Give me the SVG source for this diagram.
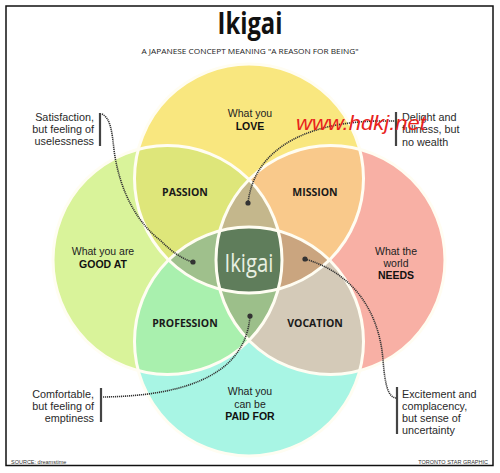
<svg xmlns="http://www.w3.org/2000/svg" width="500" height="473" viewBox="0 0 500 473">
<style>
.lbl{font-family:"Liberation Sans",sans-serif;font-size:10.5px;fill:#222;text-anchor:middle}
.b{font-weight:bold;fill:#111}
.reg{font-family:"Open Sans","Liberation Sans",sans-serif;font-size:10.5px;font-weight:bold;fill:#1a1a1a;text-anchor:middle}
.note{font-family:"Liberation Sans",sans-serif;font-size:10.8px;fill:#2a2a2a}
.bar{stroke:#444;stroke-width:2.2}
.con{fill:none;stroke:#333;stroke-width:1.6;stroke-dasharray:1.2 0.8}
.dot{fill:#333}
.ring{fill:none;stroke:#fffdf2;stroke-width:3}
.foot{font-family:"Liberation Sans",sans-serif;font-size:5.5px;fill:#333}
</style>
<defs>
<circle id="cT" cx="249" cy="178.5" r="114.5"/>
<circle id="cL" cx="167.5" cy="260" r="114.5"/>
<circle id="cR" cx="330.5" cy="260" r="114.5"/>
<circle id="cB" cx="249" cy="341.5" r="114.5"/>
<clipPath id="kT"><use href="#cT"/></clipPath>
<clipPath id="kL"><use href="#cL"/></clipPath>
<clipPath id="kR"><use href="#cR"/></clipPath>
<clipPath id="kB"><use href="#cB"/></clipPath>
</defs>
<rect x="0" y="0" width="500" height="473" fill="#fff"/>
<rect x="6" y="6" width="487" height="459.5" fill="#fff" stroke="#111" stroke-width="1.5"/>
<g id="title">
<text x="250" y="34" text-anchor="middle" font-family="Open Sans, Liberation Sans, sans-serif" font-size="31" font-weight="bold" fill="#111" textLength="65" lengthAdjust="spacingAndGlyphs">Ikigai</text>
<text x="250" y="54" text-anchor="middle" font-family="Open Sans, Liberation Sans, sans-serif" font-size="7.5" fill="#222" textLength="217" lengthAdjust="spacingAndGlyphs">A JAPANESE CONCEPT MEANING "A REASON FOR BEING"</text>
</g>
<g id="circles">
<use href="#cT" fill="#f9e77f"/>
<use href="#cL" fill="#d9f39a"/>
<use href="#cR" fill="#f8b0a5"/>
<use href="#cB" fill="#a8f5e4"/>
</g>
<g id="passion-area" clip-path="url(#kT)"><use href="#cL" fill="#dee67a"/></g>
<g id="mission-area" clip-path="url(#kT)"><use href="#cR" fill="#f9c98b"/></g>
<g id="profession-area" clip-path="url(#kB)"><use href="#cL" fill="#a9f0ae"/></g>
<g id="vocation-area" clip-path="url(#kB)"><use href="#cR" fill="#d4cab8"/></g>
<g id="lens-top" clip-path="url(#kT)"><g clip-path="url(#kR)"><use href="#cL" fill="#c4b78c"/></g></g>
<g id="lens-left" clip-path="url(#kT)"><g clip-path="url(#kB)"><use href="#cL" fill="#9fc08c"/></g></g>
<g id="lens-right" clip-path="url(#kT)"><g clip-path="url(#kB)"><use href="#cR" fill="#caa57f"/></g></g>
<g id="lens-bottom" clip-path="url(#kB)"><g clip-path="url(#kR)"><use href="#cL" fill="#9cbf8a"/></g></g>
<g id="center-area" clip-path="url(#kT)"><g clip-path="url(#kB)"><g clip-path="url(#kR)"><use href="#cL" fill="#5f7d5b"/></g></g></g>
<g id="rings">
<use href="#cT" class="ring"/>
<use href="#cL" class="ring"/>
<use href="#cR" class="ring"/>
<use href="#cB" class="ring"/>
</g>
<g id="love"><text class="lbl" x="250" y="117">What you</text><text class="lbl b" x="250" y="130">LOVE</text></g>
<g id="goodat"><text class="lbl" x="103" y="255">What you are</text><text class="lbl b" x="103" y="268">GOOD AT</text></g>
<g id="needs"><text class="lbl" x="396" y="255">What the</text><text class="lbl" x="396" y="267">world</text><text class="lbl b" x="396" y="279">NEEDS</text></g>
<g id="paidfor"><text class="lbl" x="250" y="395">What you</text><text class="lbl" x="250" y="408">can be</text><text class="lbl b" x="250" y="420">PAID FOR</text></g>
<g id="passion"><text class="reg" x="185" y="196">PASSION</text></g>
<g id="mission"><text class="reg" x="315" y="196">MISSION</text></g>
<g id="profession"><text class="reg" x="185" y="327">PROFESSION</text></g>
<g id="vocation"><text class="reg" x="315" y="327">VOCATION</text></g>
<g id="ikigai"><text x="249" y="272" text-anchor="middle" font-family="Open Sans, Liberation Sans, sans-serif" font-size="25" fill="#e9f0e2" textLength="49" lengthAdjust="spacingAndGlyphs">Ikigai</text></g>
<g id="connectors">
<path class="con" d="M102 114 C110 118 112 130 114 150 C120 195 140 225 160 240 C172 252 182 259 193 262"/>
<circle class="dot" cx="193" cy="262" r="2.6"/>
<path class="con" d="M396 121 L378 121 C318 122 255 142 248 203"/>
<circle class="dot" cx="248" cy="203" r="2.6"/>
<path class="con" d="M103 397 C170 396 245 382 250 316"/>
<circle class="dot" cx="250" cy="316" r="2.6"/>
<path class="con" d="M305 259 C360 275 380 320 383 360 C385 385 388 397 396 398"/>
<circle class="dot" cx="305" cy="259" r="2.6"/>
</g>
<g id="note-satisfaction">
<line class="bar" x1="100" y1="113" x2="100" y2="146"/>
<text class="note" text-anchor="end" x="94" y="121">Satisfaction,</text>
<text class="note" text-anchor="end" x="94" y="133">but feeling of</text>
<text class="note" text-anchor="end" x="94" y="145">uselessness</text>
</g>
<g id="note-delight">
<line class="bar" x1="396" y1="112" x2="396" y2="146"/>
<text class="note" x="402" y="121">Delight and</text>
<text class="note" x="402" y="133">fullness, but</text>
<text class="note" x="402" y="146">no wealth</text>
</g>
<g id="note-comfortable">
<line class="bar" x1="101" y1="388" x2="101" y2="422"/>
<text class="note" text-anchor="end" x="94" y="398">Comfortable,</text>
<text class="note" text-anchor="end" x="94" y="410">but feeling of</text>
<text class="note" text-anchor="end" x="94" y="422">emptiness</text>
</g>
<g id="note-excitement">
<line class="bar" x1="397" y1="387" x2="397" y2="434"/>
<text class="note" x="402" y="398">Excitement and</text>
<text class="note" x="402" y="410">complacency,</text>
<text class="note" x="402" y="422">but sense of</text>
<text class="note" x="402" y="434">uncertainty</text>
</g>
<g id="footer">
<text class="foot" x="11" y="464">SOURCE: dreamstime</text>
<text class="foot" x="488" y="464" text-anchor="end">TORONTO STAR GRAPHIC</text>
</g>
<g id="watermark"><text x="296" y="130" font-family="Liberation Sans, sans-serif" font-style="italic" font-size="20" fill="#e8231c" textLength="130" lengthAdjust="spacingAndGlyphs">www.hdkj.net</text></g>
</svg>
